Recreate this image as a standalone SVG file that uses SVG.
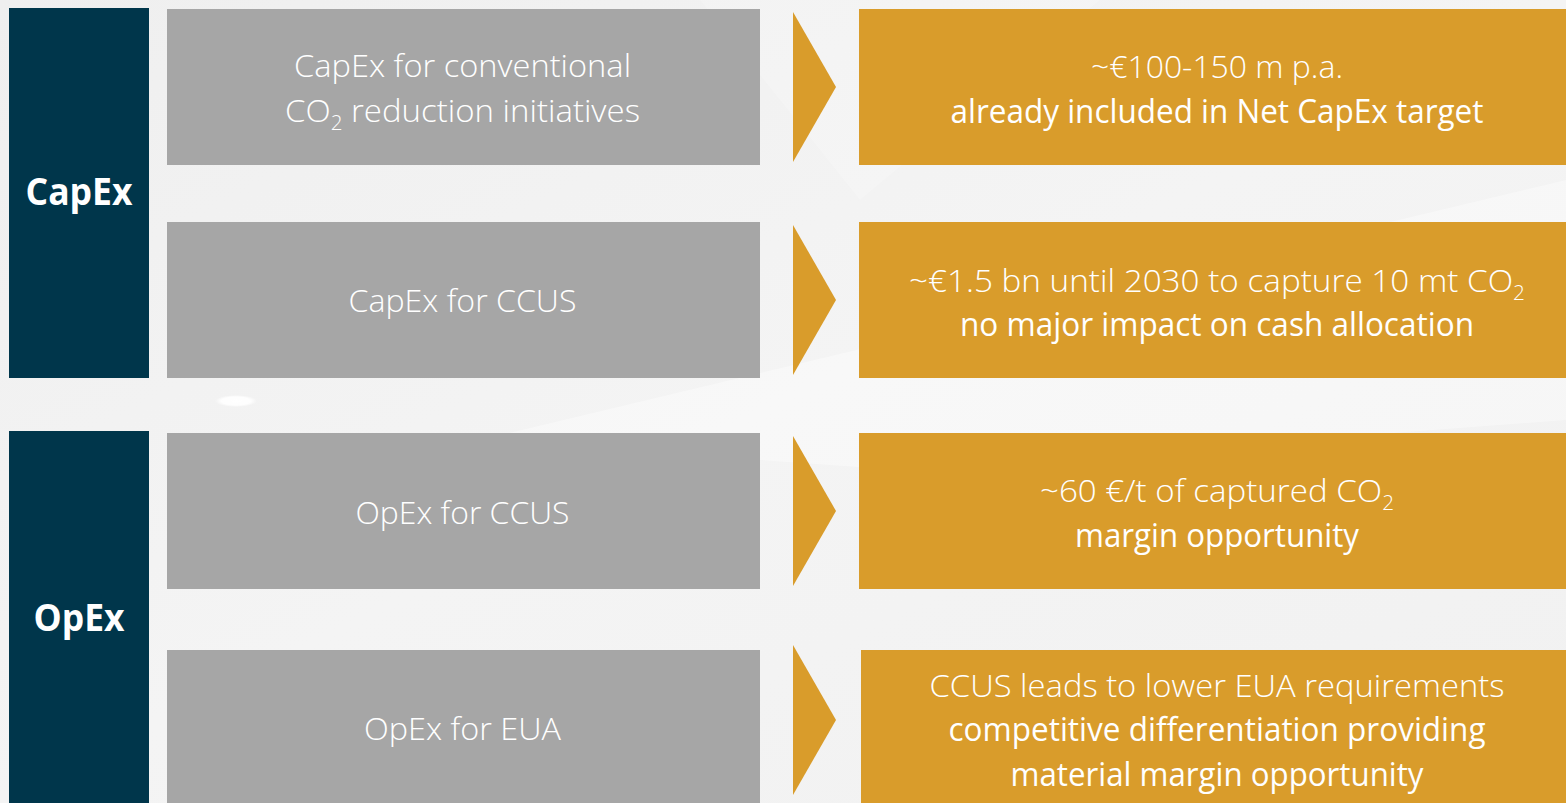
<svg xmlns="http://www.w3.org/2000/svg" width="1566" height="803" viewBox="0 0 1566 803">
  <defs>
    <linearGradient id="bg" x1="0" y1="0" x2="1" y2="1">
      <stop offset="0" stop-color="#EFEFEF"/>
      <stop offset="0.5" stop-color="#F4F4F4"/>
      <stop offset="1" stop-color="#F1F1F1"/>
    </linearGradient>
    <radialGradient id="lamp" cx="0.5" cy="0.5" r="0.5">
      <stop offset="0" stop-color="#FFFFFF"/>
      <stop offset="0.7" stop-color="#FFFFFF" stop-opacity="0.9"/>
      <stop offset="1" stop-color="#FFFFFF" stop-opacity="0"/>
    </radialGradient>
    <style>
      .cat{fill:#00364B}
      .grey{fill:#A6A6A6}
      .gold{fill:#D99C2B}
      .lbl{font-family:"Open Sans","Lato","Liberation Sans",sans-serif;font-weight:700;font-size:37px;fill:#FFFFFF;text-anchor:middle}
      .lt{font-family:"Open Sans","Lato","Liberation Sans",sans-serif;font-weight:300;font-size:32px;fill:#FFFFFF;text-anchor:middle}
      .rg{font-family:"Open Sans","Lato","Liberation Sans",sans-serif;font-weight:400;font-size:32px;fill:#FFFFFF;text-anchor:middle}
      .sub{font-size:20px}
    </style>
  </defs>

  <g id="background">
    <rect x="0" y="0" width="1566" height="803" fill="url(#bg)"/>
    <polygon points="480,440 1566,180 1566,420 900,470" fill="#FFFFFF" opacity="0.35"/>
    <polygon points="700,0 1100,0 860,200" fill="#FFFFFF" opacity="0.18"/>
    <ellipse cx="236" cy="401" rx="21" ry="6" fill="url(#lamp)"/>
  </g>

  <g id="capex">
    <rect class="cat" x="9" y="8" width="140" height="370"/>
    <text class="lbl" x="79" y="205" textLength="107" lengthAdjust="spacingAndGlyphs">CapEx</text>
  </g>
  <g id="opex">
    <rect class="cat" x="9" y="431" width="140" height="372"/>
    <text class="lbl" x="79" y="631" textLength="91" lengthAdjust="spacingAndGlyphs">OpEx</text>
  </g>

  <g id="capex-conventional">
    <rect class="grey" x="167" y="9" width="593" height="156"/>
    <text class="lt" x="462.5" y="77" textLength="337" lengthAdjust="spacingAndGlyphs">CapEx for conventional</text>
    <text class="lt" x="462.5" y="122" textLength="355" lengthAdjust="spacingAndGlyphs">CO<tspan class="sub" dy="8">2</tspan><tspan dy="-8"> reduction initiatives</tspan></text>
  </g>
  <g id="capex-ccus">
    <rect class="grey" x="167" y="222" width="593" height="156"/>
    <text class="lt" x="462.5" y="312" textLength="228" lengthAdjust="spacingAndGlyphs">CapEx for CCUS</text>
  </g>
  <g id="opex-ccus">
    <rect class="grey" x="167" y="433" width="593" height="156"/>
    <text class="lt" x="462.5" y="524" textLength="214" lengthAdjust="spacingAndGlyphs">OpEx for CCUS</text>
  </g>
  <g id="opex-eua">
    <rect class="grey" x="167" y="650" width="593" height="153"/>
    <text class="lt" x="462.5" y="740" textLength="197" lengthAdjust="spacingAndGlyphs">OpEx for EUA</text>
  </g>

  <g id="connectors">
    <polygon class="gold" points="793,12 836,87 793,162"/>
    <polygon class="gold" points="793,225 836,300 793,375"/>
    <polygon class="gold" points="793,436 836,511 793,586"/>
    <polygon class="gold" points="793,645 836,720 793,795"/>
  </g>

  <g id="result-conventional">
    <rect class="gold" x="859" y="9" width="707" height="156"/>
    <text class="lt" x="1217" y="78" textLength="252" lengthAdjust="spacingAndGlyphs">~€100-150 m p.a.</text>
    <text class="rg" x="1217" y="123" textLength="533" lengthAdjust="spacingAndGlyphs">already included in Net CapEx target</text>
  </g>
  <g id="result-capex-ccus">
    <rect class="gold" x="859" y="222" width="707" height="156"/>
    <text class="lt" x="1217" y="292" textLength="616" lengthAdjust="spacingAndGlyphs">~€1.5 bn until 2030 to capture 10 mt CO<tspan class="sub" dy="8">2</tspan></text>
    <text class="rg" x="1217" y="336" textLength="514" lengthAdjust="spacingAndGlyphs">no major impact on cash allocation</text>
  </g>
  <g id="result-opex-ccus">
    <rect class="gold" x="859" y="433" width="707" height="156"/>
    <text class="lt" x="1217" y="502" textLength="354" lengthAdjust="spacingAndGlyphs">~60 €/t of captured CO<tspan class="sub" dy="8">2</tspan></text>
    <text class="rg" x="1217" y="547" textLength="284" lengthAdjust="spacingAndGlyphs">margin opportunity</text>
  </g>
  <g id="result-eua">
    <rect class="gold" x="861" y="650" width="705" height="153"/>
    <text class="lt" x="1217" y="697" textLength="575" lengthAdjust="spacingAndGlyphs">CCUS leads to lower EUA requirements</text>
    <text class="rg" x="1217" y="741" textLength="537" lengthAdjust="spacingAndGlyphs">competitive differentiation providing</text>
    <text class="rg" x="1217" y="786" textLength="413" lengthAdjust="spacingAndGlyphs">material margin opportunity</text>
  </g>
</svg>
